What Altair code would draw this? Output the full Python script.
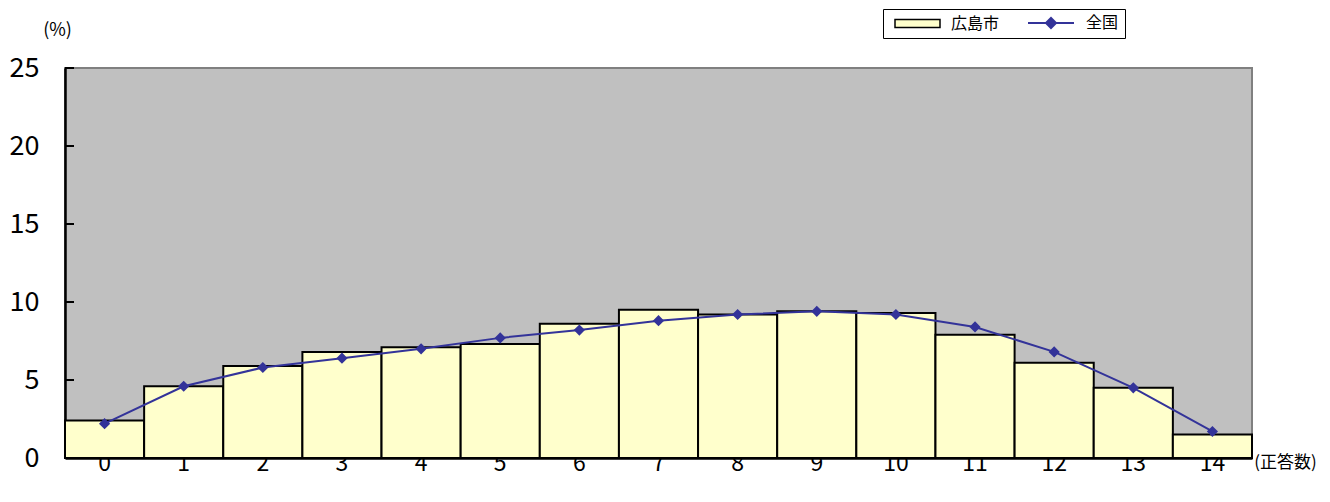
import altair as alt
import pandas as pd

categories = list(range(15))
hiroshima = [2.4, 4.6, 5.9, 6.8, 7.1, 7.3, 8.6, 9.5, 9.2, 9.4, 9.3, 7.9, 6.1, 4.5, 1.5]
national = [2.2, 4.6, 5.8, 6.4, 7.0, 7.7, 8.2, 8.8, 9.2, 9.4, 9.2, 8.4, 6.8, 4.5, 1.7]
series_names = ["広島市", "全国"]
y_ticks = [0, 5, 10, 15, 20, 25]

bar_df = pd.DataFrame({"x": categories, "v": hiroshima, "series": series_names[0]})
line_df = pd.DataFrame({"x": categories, "v": national, "series": series_names[1]})
tick_df = pd.DataFrame({"t": y_ticks})

FONT = "Noto Sans CJK JP"

stroke_scale = alt.Scale(domain=series_names, range=["black", "#333399"])

rect_path = "M-0.5,-1H10.75V1H-0.5Z"
line_path = (
    "M-1,0H10.5"
    "M3.5,0L4.75,-1.25L6,0L4.75,1.25Z"
    "M4,0L4.75,-0.75L5.5,0L4.75,0.75Z"
    "M4.5,0L4.75,-0.25L5,0L4.75,0.25Z"
)
is_h = "datum.value === '広島市'"

legend = alt.Legend(
    title=None,
    orient="none",
    legendX=818,
    legendY=-59,
    direction="horizontal",
    symbolSize=64,
    labelOffset=46,
    columnPadding=24,
    labelFont=FONT,
    labelFontSize=16,
    labelColor="black",
    strokeColor="black",
    padding=6,
    symbolType={"expr": f"{is_h} ? '{rect_path}' : '{line_path}'"},
    symbolFillColor={"expr": f"{is_h} ? '#FFFFCC' : '#333399'"},
    symbolStrokeWidth={"expr": f"{is_h} ? 1.5 : 2"},
    symbolOpacity=1,
)

x_enc = alt.X(
    "x:O",
    scale=alt.Scale(paddingInner=0, paddingOuter=0),
    axis=alt.Axis(
        title="(正答数)",
        titleFont=FONT,
        titleFontSize=17,
        titleFontWeight="normal",
        titleColor="black",
        titleAngle=0,
        titleX=1220,
        titleY=4,
        titleAlign="center",
        titleBaseline="middle",
        labelAngle=0,
        labelFont=FONT,
        labelFontSize=23,
        labelColor="black",
        labelPadding=-6,
        ticks=False,
        domainColor="black",
        domainWidth=2.5,
    ),
)

y_scale = alt.Scale(domain=[0, 25], nice=False)
y_axis = alt.Axis(
    values=y_ticks,
    title="(%)",
    titleFont=FONT,
    titleFontSize=18,
    titleFontWeight="normal",
    titleColor="black",
    titleAngle=0,
    titleX=-8,
    titleY=-38,
    titleAlign="center",
    titleBaseline="middle",
    labelFont=FONT,
    labelFontSize=27,
    labelColor="black",
    labelPadding=26,
    ticks=False,
    grid=False,
    domainColor="black",
    domainWidth=2.5,
)

bars = alt.Chart(bar_df).mark_bar(fill="#FFFFCC", strokeWidth=2).encode(
    x=x_enc,
    y=alt.Y("v:Q", scale=y_scale, axis=y_axis),
    stroke=alt.Stroke("series:N", scale=stroke_scale, legend=legend),
)

line = alt.Chart(line_df).mark_line(
    strokeWidth=2,
    point=alt.OverlayMarkDef(shape="diamond", size=70, filled=True, fill="#333399"),
).encode(
    x=alt.X("x:O"),
    y=alt.Y("v:Q", scale=y_scale),
    stroke=alt.Stroke("series:N", scale=stroke_scale, legend=legend),
)

ticks = alt.Chart(tick_df).mark_rule(color="black", strokeWidth=2).encode(
    y=alt.Y("t:Q", scale=y_scale),
    x=alt.value(0),
    x2=alt.value(9),
)

chart = alt.layer(bars, line, ticks).properties(
    width=1187,
    height=390,
    background="white",
    autosize=alt.AutoSizeParams(type="none"),
    padding={"left": 57, "top": 60, "right": 70, "bottom": 36},
).configure_view(
    fill="#C0C0C0",
    stroke="#808080",
    strokeWidth=2,
)

chart.save("out.html", embed_options={"renderer": "svg", "actions": False})
